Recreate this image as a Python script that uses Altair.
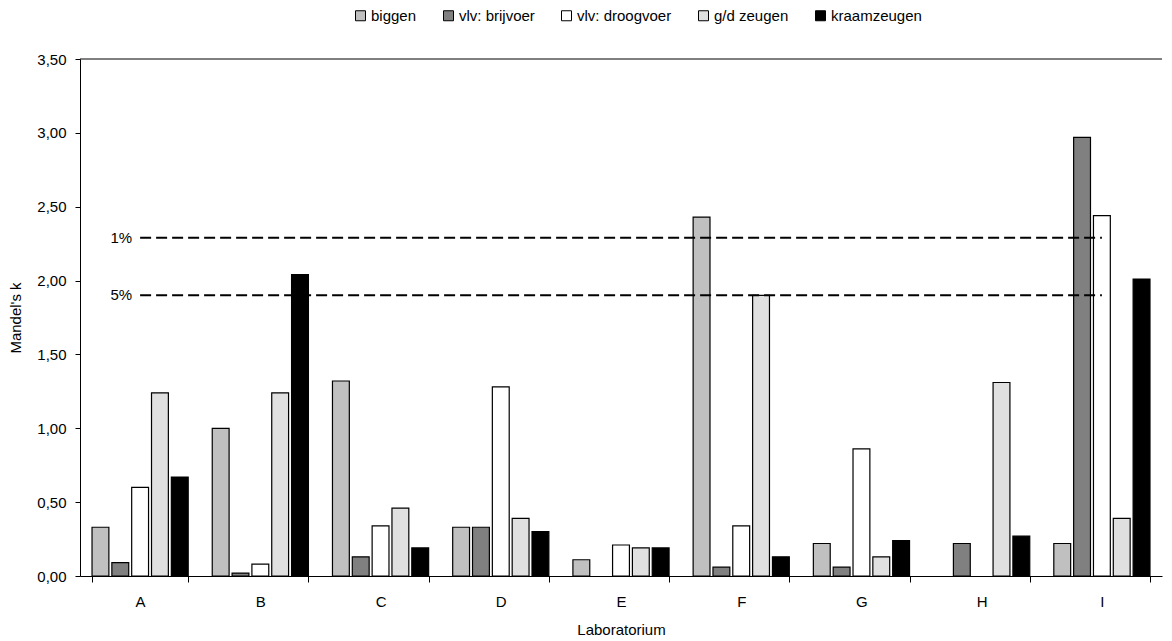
import altair as alt
import pandas as pd

labs = ["A", "B", "C", "D", "E", "F", "G", "H", "I"]
series = ["biggen", "vlv: brijvoer", "vlv: droogvoer", "g/d zeugen", "kraamzeugen"]
colors = ["#c0c0c0", "#808080", "#ffffff", "#e0e0e0", "#000000"]

biggen = [0.33, 1.00, 1.32, 0.33, 0.11, 2.43, 0.22, None, 0.22]
brijvoer = [0.09, 0.02, 0.13, 0.33, None, 0.06, 0.06, 0.22, 2.97]
droogvoer = [0.60, 0.08, 0.34, 1.28, 0.21, 0.34, 0.86, None, 2.44]
gd_zeugen = [1.24, 1.24, 0.46, 0.39, 0.19, 1.90, 0.13, 1.31, 0.39]
kraamzeugen = [0.67, 2.04, 0.19, 0.30, 0.19, 0.13, 0.24, 0.27, 2.01]

limit_labels = ["1%", "5%"]
limit_values = [2.29, 1.90]

y_ticks = [0, 0.5, 1.0, 1.5, 2.0, 2.5, 3.0, 3.5]

rows = []
for s, vals in zip(series, [biggen, brijvoer, droogvoer, gd_zeugen, kraamzeugen]):
    for lab, v in zip(labs, vals):
        if v is not None:
            rows.append({"lab": lab, "serie": s, "k": v})
df = pd.DataFrame(rows)
lim = pd.DataFrame({"label": limit_labels, "k": limit_values,
                    "start": [labs[0]] * 2, "end": [labs[-1]] * 2})
top = pd.DataFrame({"one": [1]})

W, H = 1082, 517
FONT = "Liberation Sans"

xscale = alt.Scale(domain=labs, paddingInner=0.2, paddingOuter=0.1)
yscale = alt.Scale(domain=[0, 3.5], nice=False)

x = alt.X("lab:N", scale=xscale,
          axis=alt.Axis(title="Laboratorium", labelAngle=0, tickBand="extent",
                        tickSize=6, labelPadding=12, titlePadding=13))
y = alt.Y("k:Q", scale=yscale,
          axis=alt.Axis(title="Mandel's k", values=y_ticks,
                        labelExpr="replace(format(datum.value, '.2f'), '.', ',')",
                        grid=False, tickSize=5, labelPadding=9, titlePadding=13))

bars = alt.Chart(df).mark_bar(stroke="black", strokeWidth=1.2).encode(
    x=x,
    xOffset=alt.XOffset("serie:N", scale=alt.Scale(domain=series, paddingInner=0.15, paddingOuter=0)),
    y=y,
    color=alt.Color("serie:N", scale=alt.Scale(domain=series, range=colors),
                    legend=alt.Legend(title=None, orient="none", direction="horizontal",
                                      legendX=273, legendY=-51, symbolType="square",
                                      symbolSize=100, symbolStrokeColor="black",
                                      symbolStrokeWidth=1, labelFontSize=15,
                                      columnPadding=24, labelOffset=3)),
)

rules = alt.Chart(lim).mark_rule(color="black", strokeWidth=2, strokeDash=[11, 5]).encode(
    x=alt.X("start:N", scale=xscale), x2="end:N", y=alt.Y("k:Q", scale=yscale)
)

texts = alt.Chart(lim).mark_text(align="right", baseline="middle", dx=-8, fontSize=15,
                                 font=FONT, color="black").encode(
    x=alt.X("start:N", scale=xscale), y=alt.Y("k:Q", scale=yscale), text="label:N"
)

topline = alt.Chart(top).mark_rule(color="black", strokeWidth=1).encode(
    x=alt.value(0), x2=alt.value(W), y=alt.value(0)
)

chart = alt.layer(bars, rules, texts, topline).properties(
    width=W, height=H, padding={"left": 0, "top": 0, "right": 0, "bottom": 0}
).configure_view(stroke=None).configure_axis(
    labelFont=FONT, titleFont=FONT, labelFontSize=15, titleFontSize=15,
    titleFontWeight="normal", labelColor="black", titleColor="black",
    domainColor="black", tickColor="black"
).configure_legend(labelFont=FONT, labelColor="black")

chart.save("out.html", embed_options={"renderer": "svg", "actions": False})
